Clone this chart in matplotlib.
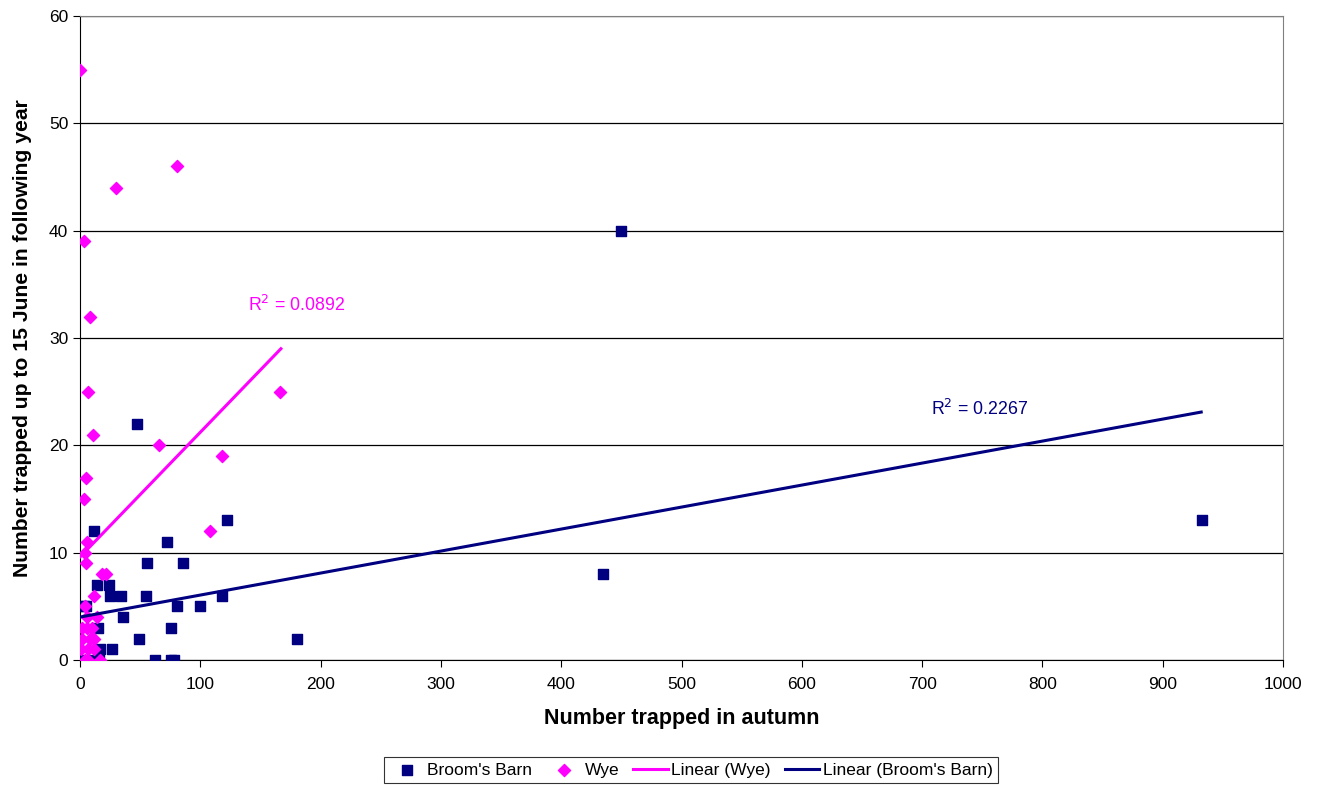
import numpy as np
import matplotlib.pyplot as plt

plt.rcParams['font.family'] = ['Liberation Sans', 'DejaVu Sans']

# Broom's Barn points (autumn catch, catch up to 15 June next year)
bb_x = [0, 3, 5, 12, 14, 24, 25, 34, 55, 118, 81, 100, 36, 15, 76, 49, 17, 27,
        8, 16, 62, 76, 78, 180, 122, 72, 56, 86, 47, 450, 435, 933]
bb_y = [0, 5, 5, 12, 7, 7, 6, 6, 6, 6, 5, 5, 4, 3, 3, 2, 1, 1,
        0, 0, 0, 0, 0, 2, 13, 11, 9, 9, 22, 40, 8, 13]

# Wye points
wye_x = [0, 30, 81, 3, 8, 7, 166, 10.5, 66, 118, 5, 3, 108, 6, 4.5, 5, 18, 22,
         12, 4, 6, 14, 2, 10, 6, 2, 8, 12, 1, 7, 12, 7, 17, 4]
wye_y = [55, 44, 46, 39, 32, 25, 25, 21, 20, 19, 17, 15, 12, 11, 10, 9, 8, 8,
         6, 5, 4, 4, 3, 3, 3, 2, 2, 2, 1, 1, 1, 0, 0, 0]

# trend lines: (x start, x end), (y start, y end)
wye_fit_x = [0, 167]
wye_fit_y = [9.6, 29.0]
bb_fit_x = [0, 932]
bb_fit_y = [4.0, 23.1]

navy = '#000080'
magenta = '#FF00FF'

fig = plt.figure(figsize=(13.21, 7.85), dpi=100)
ax = fig.add_axes([80 / 1321, 125 / 785, 1203 / 1321, 644 / 785])

ax.scatter(bb_x, bb_y, marker='s', s=60, color=navy, zorder=3, label="Broom's Barn")
ax.scatter(wye_x, wye_y, marker='D', s=38, color=magenta, zorder=4, label='Wye')
ax.plot(wye_fit_x, wye_fit_y, color=magenta, lw=2.2, zorder=5, label='Linear (Wye)')
ax.plot(bb_fit_x, bb_fit_y, color=navy, lw=2.2, zorder=5, label="Linear (Broom's Barn)")

ax.text(140, 32.5, 'R$^2$ = 0.0892', color=magenta, fontsize=12.8)
ax.text(707, 22.8, 'R$^2$ = 0.2267', color=navy, fontsize=12.8)

ax.set_xlim(0, 1000)
ax.set_ylim(0, 60)
ax.set_xticks(np.arange(0, 1001, 100))
ax.set_yticks(np.arange(0, 61, 10))
ax.yaxis.grid(True, color='#000000', lw=0.9)
ax.set_axisbelow(True)
ax.tick_params(labelsize=12.5, direction='out', length=5, color='black')
ax.tick_params(axis='x', pad=7)
for side in ['top', 'right']:
    ax.spines[side].set_color('#808080')
for side in ['left', 'bottom']:
    ax.spines[side].set_color('black')

ax.set_xlabel('Number trapped in autumn', fontsize=15.5, fontweight='bold', labelpad=12)
ax.set_ylabel('Number trapped up to 15 June in following year', fontsize=15.2,
              fontweight='bold', labelpad=12)

leg = fig.legend(loc='center', bbox_to_anchor=(691 / 1321, 15 / 785), ncol=4,
                 fontsize=12.5, frameon=True, fancybox=False, edgecolor='black',
                 handlelength=2.0, handletextpad=0.2, columnspacing=0.8,
                 borderpad=0.3, scatterpoints=1)
leg.get_frame().set_linewidth(0.8)

fig.savefig('out.png', dpi=100)
